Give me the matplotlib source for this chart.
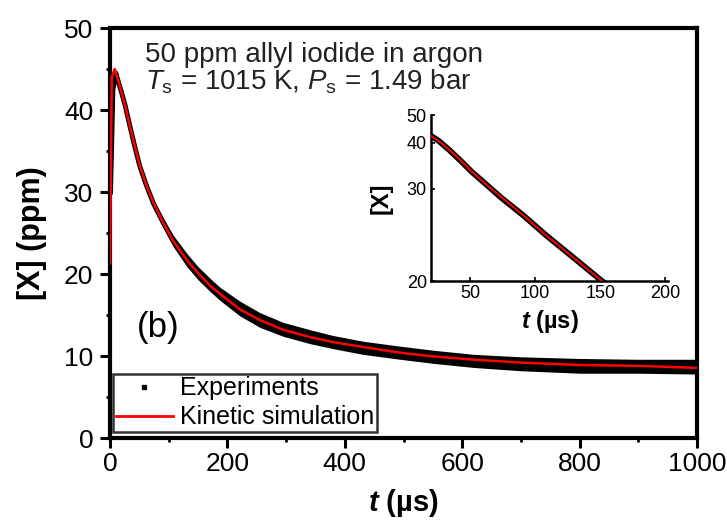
import matplotlib
matplotlib.use("Agg")
import matplotlib.pyplot as plt
from matplotlib.lines import Line2D
from matplotlib.ticker import MultipleLocator, FixedLocator, NullLocator
import numpy as np

plt.rcParams['font.family'] = ['Liberation Sans', 'DejaVu Sans']
plt.rcParams['mathtext.fontset'] = 'custom'
plt.rcParams['mathtext.rm'] = 'Liberation Sans'
plt.rcParams['mathtext.it'] = 'Liberation Sans:italic'
plt.rcParams['mathtext.bf'] = 'Liberation Sans:bold'
plt.rcParams['mathtext.bfit'] = 'Liberation Sans:italic:bold'

# ---- data ----
sim_t = [0, 3, 8, 14, 21, 26, 34, 43, 51, 62, 74, 91, 108, 131, 150, 170, 187,
         221, 255, 295, 341, 380, 431, 494, 551, 620, 700, 800, 900, 1000]
sim_v = [21.3, 44.0, 45.0, 43.6, 41.8, 40.5, 38.0, 35.4, 33.2, 30.8, 28.7, 26.2,
         24.0, 21.7, 20.1, 18.6, 17.6, 15.7, 14.4, 13.2, 12.3, 11.7, 11.1, 10.4,
         9.95, 9.55, 9.2, 8.9, 8.8, 8.55]

exp_t = [1, 5, 10, 14, 21, 26, 34, 43, 51, 62, 74, 91, 108, 131, 150, 170, 187,
         221, 255, 295, 341, 380, 431, 494, 551, 620, 700, 800, 900, 1000]
exp_v = [30.0, 42.5, 44.5, 43.5, 41.8, 40.5, 38.0, 35.3, 33.1, 30.8, 28.6, 26.2,
         24.0, 21.7, 20.1, 18.7, 17.6, 15.8, 14.4, 13.3, 12.4, 11.7, 11.0, 10.4,
         9.9, 9.4, 9.0, 8.75, 8.7, 8.7]
exp_hi = [30.2, 42.8, 44.8, 43.8, 42.1, 40.8, 38.3, 35.6, 33.5, 31.2, 29.1, 26.8,
          24.7, 22.5, 20.9, 19.5, 18.4, 16.7, 15.3, 14.1, 13.2, 12.5, 11.8, 11.2,
          10.7, 10.2, 9.9, 9.7, 9.6, 9.6]
exp_lo = [29.8, 42.2, 44.2, 43.2, 41.5, 40.2, 37.7, 35.0, 32.7, 30.4, 28.1, 25.6,
          23.3, 20.9, 19.3, 17.9, 16.8, 14.9, 13.5, 12.4, 11.5, 10.9, 10.2, 9.6,
          9.1, 8.6, 8.2, 7.9, 7.9, 7.8]

main_xticks = [0, 200, 400, 600, 800, 1000]
main_yticks = [0, 10, 20, 30, 40, 50]
inset_xticks = [50, 100, 150, 200]
inset_yticks = [20, 30, 40, 50]

W, H = 727, 522
fig = plt.figure(figsize=(W / 100, H / 100), dpi=100)


def fx(px):
    return px / W


def fy(py):
    return 1 - py / H


ax = fig.add_axes([fx(110), fy(438), fx(697) - fx(110), fy(28) - fy(438)])

ax.fill_between(exp_t, exp_lo, exp_hi, color='black', linewidth=0, zorder=2)
ax.plot(exp_t, exp_v, color='black', lw=3.5, zorder=2, solid_joinstyle='round')
ax.plot(sim_t, sim_v, color='#ff0000', lw=1.8, zorder=3)

ax.set_xlim(0, 1000)
ax.set_ylim(0, 50)
ax.xaxis.set_major_locator(FixedLocator(main_xticks))
ax.xaxis.set_minor_locator(MultipleLocator(100))
ax.yaxis.set_major_locator(FixedLocator(main_yticks))
ax.yaxis.set_minor_locator(MultipleLocator(5))
for s in ax.spines.values():
    s.set_linewidth(3)
ax.tick_params(which='major', direction='out', length=7, width=2.2,
               labelsize=19, pad=3)
ax.tick_params(which='minor', direction='out', length=3, width=2)
ax.tick_params(axis='y', which='major', pad=5)

ax.set_xlabel(r'$\mathbfit{t}$ (µs)', fontsize=21, fontweight='bold', labelpad=8)
ax.set_ylabel('[X] (ppm)', fontsize=22, fontweight='bold', labelpad=12)

ax.text(0.06, 0.917, '50 ppm allyl iodide in argon', transform=ax.transAxes,
        fontsize=20, va='baseline', ha='left', color='#222222')
ax.text(0.06, 0.849,
        r'$T_\mathrm{s}$ = 1015 K, $P_\mathrm{s}$ = 1.49 bar',
        transform=ax.transAxes, fontsize=20, va='baseline', ha='left',
        color='#222222')
ax.text(fx(158), fy(327), '(b)', transform=fig.transFigure, fontsize=25,
        ha='center', va='center')

handles = [Line2D([], [], color='black', marker='s', markersize=3, linestyle='none'),
           Line2D([], [], color='#ff0000', lw=2)]
leg = ax.legend(handles, ['Experiments', 'Kinetic simulation'],
                loc='lower left', bbox_to_anchor=(fx(113), fy(432)),
                bbox_transform=fig.transFigure, borderaxespad=0,
                fontsize=18, frameon=True, fancybox=False, borderpad=0.1,
                handlelength=2.3, handletextpad=0.3, labelspacing=0.2)
leg.get_frame().set_edgecolor('black')
leg.get_frame().set_linewidth(1.8)

# ---- inset ----
axi = fig.add_axes([fx(431), fy(281), fx(668) - fx(431), fy(115) - fy(281)])
axi.plot(exp_t, exp_v, color='black', lw=4.2, zorder=2)
axi.plot(sim_t, sim_v, color='#ff0000', lw=1.4, zorder=3)
axi.set_yscale('function', functions=(lambda y: -1.0 / np.asarray(y),
                                      lambda v: -1.0 / np.asarray(v)))
axi.set_xlim(20, 202)
axi.set_ylim(20, 50)
axi.xaxis.set_major_locator(FixedLocator(inset_xticks))
axi.yaxis.set_major_locator(FixedLocator(inset_yticks))
axi.xaxis.set_minor_locator(NullLocator())
axi.yaxis.set_minor_locator(NullLocator())
axi.spines['top'].set_visible(False)
axi.spines['right'].set_visible(False)
for s in ('left', 'bottom'):
    axi.spines[s].set_linewidth(1.8)
axi.tick_params(direction='in', length=3, width=1.2, labelsize=13, pad=3)
axi.set_xlabel(r'$\mathbfit{t}$ (µs)', fontsize=17, fontweight='bold', labelpad=4)
axi.set_ylabel('[X]', fontsize=17, fontweight='bold', labelpad=10)

fig.savefig('out.png', dpi=100)
